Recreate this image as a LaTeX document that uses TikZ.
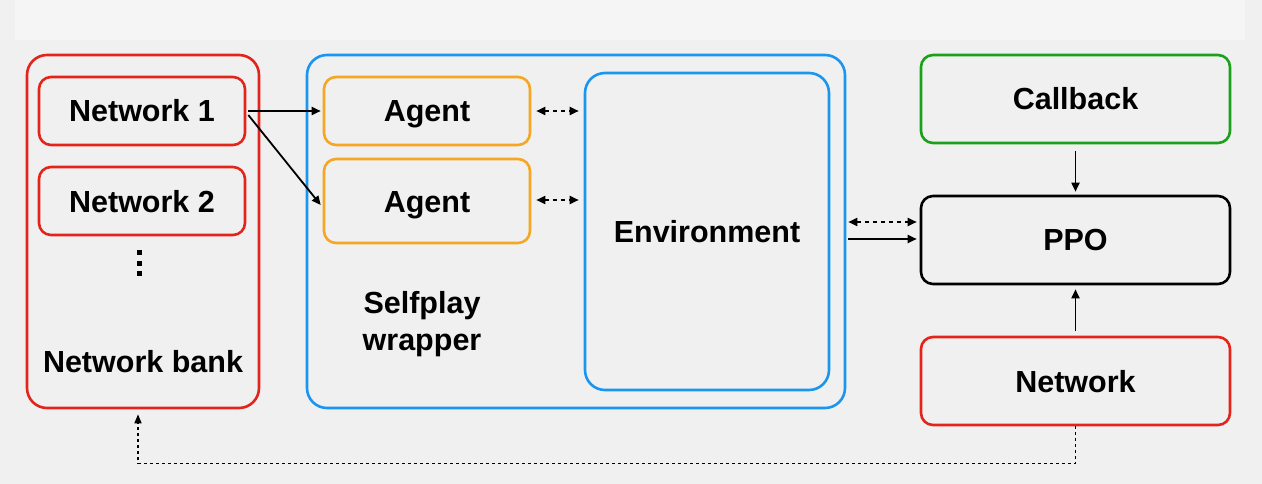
\documentclass[tikz,border=0pt]{standalone}
\usepackage{fontspec}
\setmainfont{Liberation Sans}
\usetikzlibrary{arrows.meta}
\definecolor{bg}{HTML}{F0F0F0}
\definecolor{band}{HTML}{F4F5F4}
\definecolor{cred}{HTML}{E3241B}
\definecolor{cblue}{HTML}{1A96F0}
\definecolor{corange}{HTML}{F5A623}
\definecolor{cgreen}{HTML}{1AA01A}
\tikzset{
  txt/.style={font=\fontsize{30.5}{37}\selectfont\bfseries, align=center, text height=22pt, text depth=0pt},
  box/.style={draw=#1, line width=2.6pt, rounded corners=12pt, inner sep=0pt, txt},
  bigbox/.style={draw=#1, line width=2.6pt, rounded corners=20pt, inner sep=0pt},
  lbl/.style={inner sep=0pt, txt},
  arr/.style={line width=1.8pt, -{Triangle[length=9pt,width=8pt]}},
  darr/.style={line width=1.8pt, dash pattern=on 4pt off 4pt, {Triangle[length=9pt,width=8pt]}-{Triangle[length=9pt,width=8pt]}},
  farr/.style={line width=1.5pt, dash pattern=on 3pt off 3pt, -{Triangle[length=9pt,width=7pt]}}
}
\begin{document}
\begin{tikzpicture}[x=1pt,y=-1pt]
\useasboundingbox (0,0) rectangle (1262,484);
\fill[bg] (0,0) rectangle (1262,484);
\fill[band] (15,0) rectangle (1245,40);
% left bank
\node[bigbox=cred, minimum width=232pt, minimum height=353pt] (bank) at (143,231.5) {};
\node[box=cred, minimum width=206pt, minimum height=68pt] (net1) at (142,111) {Network 1};
\node[box=cred, minimum width=206pt, minimum height=68pt] (net2) at (142,201) {Network 2};
\foreach \yy in {252,263,273} \fill (139,\yy) +(-2.5,-2.5) rectangle +(2.5,2.5);
\node[lbl] (banklbl) at (143,361.5) {Network bank};
% selfplay wrapper
\node[bigbox=cblue, minimum width=538pt, minimum height=353pt] (wrap) at (576,231.5) {};
\node[box=corange, minimum width=206pt, minimum height=68pt] (ag1) at (427,111) {Agent};
\node[box=corange, minimum width=206pt, minimum height=84pt] (ag2) at (427,201) {Agent};
\node[bigbox=cblue, minimum width=244pt, minimum height=317pt] (env) at (707,231.5) {};
\node[lbl] (envlbl) at (707,232) {Environment};
\node[lbl, text height=22pt, text depth=7pt] (wraplbl) at (422,343) {Selfplay\\wrapper};
% right column
\node[box=cgreen, minimum width=309pt, minimum height=88pt] (cb) at (1075.5,99) {Callback};
\node[box=black, minimum width=309pt, minimum height=88pt] (ppo) at (1075.5,240) {PPO};
\node[box=cred, minimum width=309pt, minimum height=88pt] (net) at (1075.5,381) {Network};
% connectors
\draw[arr] ([xshift=2pt]net1.east) -- ([xshift=-2pt]ag1.west);
\draw[arr] ([xshift=2pt,yshift=-4pt]net1.east) -- ([xshift=-2pt,yshift=-4pt]ag2.west);
\path ([xshift=5pt]ag1.east) coordinate (a1);
\path ([xshift=-5pt]env.west) coordinate (e0);
\draw[darr] (a1) -- (a1 -| e0);
\path ([xshift=5pt,yshift=1pt]ag2.east) coordinate (a2);
\draw[darr] (a2) -- (a2 -| e0);
\path ([yshift=18pt,xshift=-3pt]ppo.west) coordinate (p1);
\path ([yshift=1pt,xshift=-3pt]ppo.west) coordinate (p2);
\path ([xshift=2pt]wrap.east) coordinate (w0);
\draw[darr] (p1 -| w0) -- (p1);
\draw[arr] (p2 -| w0) -- (p2);
\draw[arr] ([yshift=-7pt]cb.south) -- ([yshift=3pt]ppo.north);
\draw[arr] ([yshift=5pt]net.north) -- ([yshift=-4pt]ppo.south);
\draw[farr] (net.south) -- ++(0,37) -| ([xshift=-5pt,yshift=-5pt]bank.south);
\end{tikzpicture}
\end{document}
